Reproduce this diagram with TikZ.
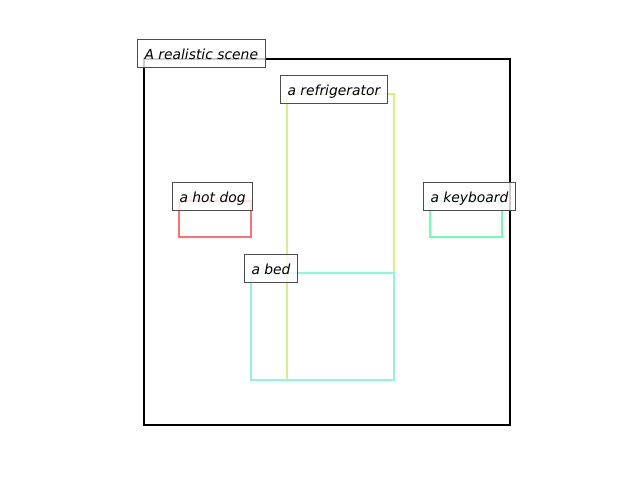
\documentclass[tikz,border=0pt]{standalone}
\usepackage{fontspec}
\setmainfont{DejaVu Sans}
\begin{document}
\begin{tikzpicture}[x=0.75pt,y=-0.75pt,
  frame/.style={draw=black,line width=1.6pt},
  objbox/.style={line width=1.9pt},
  lbl/.style={draw=black!70,line width=0.75pt,fill=white,fill opacity=0.8,text opacity=1,
    anchor=south west,inner xsep=5.25pt,inner ysep=0pt,minimum height=21pt,
    font=\fontsize{10.4}{12}\selectfont\itshape,text height=0.98em,text depth=0.02em}]
\definecolor{fridgec}{RGB}{212,242,122}
\definecolor{bedc}{RGB}{143,245,222}
\definecolor{hotdogc}{RGB}{255,112,112}
\definecolor{keybc}{RGB}{112,255,178}
\useasboundingbox (0,0) rectangle (640,480);
% scene outline
\draw[frame] (144,59) rectangle (510,425);
% object boxes
\draw[objbox,draw=fridgec] (287,94) rectangle (394,380);
\draw[objbox,draw=hotdogc] (179,201) rectangle (251,237);
\draw[objbox,draw=keybc] (430,201) rectangle (502,237);
\draw[objbox,draw=bedc] (251,273) rectangle (394,380);
% labels
\node[lbl] (scene) at (137,68) {A realistic scene};
\node[lbl] (fridge) at (280,104) {a refrigerator};
\node[lbl] (hotdog) at (172,211) {a hot dog};
\node[lbl] (keyb) at (423,211) {a keyboard};
\node[lbl] (bed) at (244,283) {a bed};
\end{tikzpicture}
\end{document}
